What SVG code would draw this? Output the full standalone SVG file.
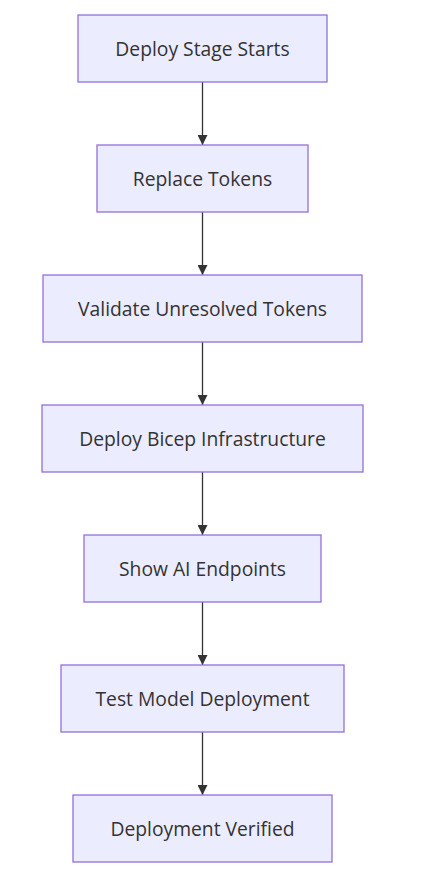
<svg xmlns="http://www.w3.org/2000/svg" width="447" height="878" viewBox="0 0 447 878">
<style>
.n rect{fill:#ECECFF;stroke:#9370DB;stroke-width:1.3}
.n text{font-family:"Open Sans","DejaVu Sans",sans-serif;font-size:19.3px;fill:#333;text-anchor:middle;dominant-baseline:central}
.e path{stroke:#333;stroke-width:1.3;fill:none;marker-end:url(#arr)}
</style>
<defs>
<marker id="arr" viewBox="0 0 10 10" refX="10" refY="5" markerWidth="10" markerHeight="10" markerUnits="userSpaceOnUse" orient="auto">
<path d="M0,0 L10,5 L0,10 z" fill="#333"/>
</marker>
</defs>
<rect width="447" height="878" fill="#fff"/>
<g class="e">
<path d="M202.5,82 V145"/>
<path d="M202.5,212 V275"/>
<path d="M202.5,342 V405"/>
<path d="M202.5,472 V535"/>
<path d="M202.5,602 V665"/>
<path d="M202.5,732 V795"/>
</g>
<g class="n" id="n1"><rect x="78" y="15" width="249" height="67"/><text x="202.5" y="48.5">Deploy Stage Starts</text></g>
<g class="n" id="n2"><rect x="97" y="145" width="211" height="67"/><text x="202.5" y="178.5">Replace Tokens</text></g>
<g class="n" id="n3"><rect x="43" y="275" width="319" height="67"/><text x="202.5" y="308.5">Validate Unresolved Tokens</text></g>
<g class="n" id="n4"><rect x="42" y="405" width="321" height="67"/><text x="202.5" y="438.5">Deploy Bicep Infrastructure</text></g>
<g class="n" id="n5"><rect x="84" y="535" width="237" height="67"/><text x="202.5" y="568.5">Show AI Endpoints</text></g>
<g class="n" id="n6"><rect x="61" y="665" width="283" height="67"/><text x="202.5" y="698.5">Test Model Deployment</text></g>
<g class="n" id="n7"><rect x="73" y="795" width="259" height="67"/><text x="202.5" y="828.5">Deployment Verified</text></g>
</svg>
